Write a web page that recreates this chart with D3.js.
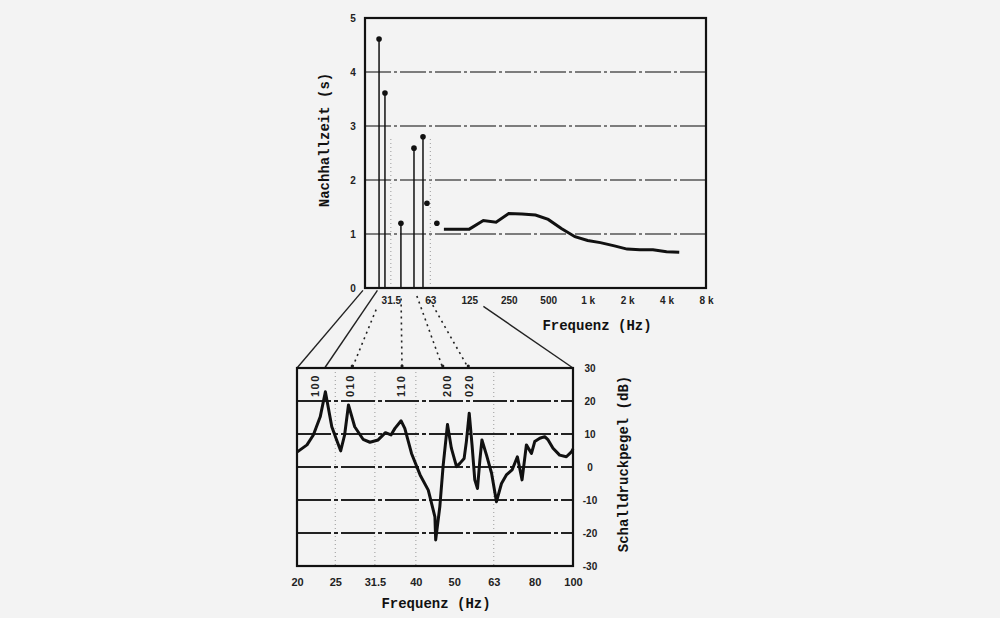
<!DOCTYPE html>
<html>
<head>
<meta charset="utf-8">
<script src="https://cdn.jsdelivr.net/npm/d3@7"></script>
<style>
  body { margin: 0; background: #f3f3f3; }
  svg { display: block; }
  .tick-label { font-family: "Liberation Sans", sans-serif; font-weight: bold; fill: #222; }
  .title { font-family: "Liberation Mono", monospace; font-weight: bold; fill: #111; font-size: 14px; }
</style>
</head>
<body>
<svg id="chart" width="1000" height="618"></svg>
<script>
// Nachhallzeit (top): third-octave curve
const rtFreq = [80, 100, 125, 160, 200, 250, 315, 400, 500, 630, 800, 1000, 1250, 1600, 2000, 2500, 3150, 4000, 5000];
const rtValue = [1.09, 1.09, 1.09, 1.25, 1.22, 1.38, 1.37, 1.35, 1.27, 1.10, 0.95, 0.88, 0.84, 0.78, 0.72, 0.71, 0.71, 0.67, 0.66];

// modal decay times (stems) and loose points
const stemFreq = [25.6, 28.4, 37.6, 47.3, 55.4];
const stemValue = [4.61, 3.61, 1.2, 2.59, 2.8];
const dotFreq = [59.4, 70.7];
const dotValue = [1.57, 1.2];

const topTickFreq = [31.5, 63, 125, 250, 500, 1000, 2000, 4000, 8000];
const topTickText = ["31.5", "63", "125", "250", "500", "1 k", "2 k", "4 k", "8 k"];
const topYTicks = [0, 1, 2, 3, 4, 5];
const topVGrid = [31.5, 63];

// Schalldruckpegel (bottom)
const splFreq = [20.0, 21.2, 22.0, 22.9, 23.6, 24.5, 25.2, 25.8, 26.4, 27.0, 28.0, 29.4, 30.6, 32.1, 33.5, 34.6, 35.4, 36.7, 37.5, 39.0,
  41.0, 43.0, 44.7, 44.9, 46.0, 46.9, 48.1, 49.2, 50.7, 51.7, 53.0, 53.7, 54.6, 55.5, 56.4, 57.3, 58.1, 58.8, 60.4, 62.2,
  64.0, 65.9, 67.8, 70.1, 72.3, 74.3, 76.2, 78.5, 80.0, 82.4, 84.8, 86.5, 89.0, 92.5, 96.2, 99.1, 100];
const splValue = [4.5, 6.7, 9.7, 15.2, 22.8, 12.2, 8.2, 4.9, 9.7, 18.8, 12.2, 8.4, 7.5, 8.2, 10.4, 9.7, 11.7, 14.0, 11.7, 4.1,
  -2.4, -7.0, -15.1, -22.1, -12, 0.4, 12.9, 5.7, 0.1, 1.1, 2.6, 7.7, 16.3, 6.7, -3.9, -6.5, 2.1, 8.2, 3.6, -1.9,
  -10.5, -5, -2.4, -0.9, 3.1, -3.9, 6.7, 4.1, 7.7, 8.7, 9.2, 8.2, 5.7, 3.6, 3.1, 4.6, 5.5];

const botTickFreq = [20, 25, 31.5, 40, 50, 63, 80, 100];
const botTickText = ["20", "25", "31.5", "40", "50", "63", "80", "100"];
const botYTicks = [30, 20, 10, 0, -10, -20, -30];
const botHGrid = [20, 10, 0, -10, -20];
const botVGrid = [25, 31.5, 40, 63];

// room modes
const modeName = ["100", "010", "110", "200", "020"];
const modeFreq = [23.5, 27.6, 36.9, 46.8, 54.3];
const modeLabelFreq = [22.2, 27.2, 36.6, 47.9, 54.6];

const svg = d3.select("#chart");

const topBox = { x: 365, y: 18, w: 341, h: 270 };
const botBox = { x: 297, y: 368, w: 276, h: 198 };

const xTop = d3.scaleLog().domain([20, 8000]).range([topBox.x, topBox.x + topBox.w]);
const yTop = d3.scaleLinear().domain([0, 5]).range([topBox.y + topBox.h, topBox.y]);
const xBot = d3.scaleLog().domain([20, 100]).range([botBox.x, botBox.x + botBox.w]);
const yBot = d3.scaleLinear().domain([-30, 30]).range([botBox.y + botBox.h, botBox.y]);

const plain = d => String(d);

// ---- top chart ----
const gTop = svg.append("g");

gTop.append("g")
  .selectAll("line")
  .data([1, 2, 3, 4])
  .join("line")
  .attr("x1", topBox.x).attr("x2", topBox.x + topBox.w)
  .attr("y1", d => yTop(d)).attr("y2", d => yTop(d))
  .attr("stroke", "#555")
  .attr("stroke-width", 1.6)
  .attr("stroke-dasharray", "26 3 3 3");

gTop.append("g")
  .selectAll("line")
  .data(topVGrid)
  .join("line")
  .attr("x1", d => xTop(d)).attr("x2", d => xTop(d))
  .attr("y1", yTop(0)).attr("y2", yTop(2.8))
  .attr("stroke", "#999")
  .attr("stroke-width", 1)
  .attr("stroke-dasharray", "1 3");

gTop.append("rect")
  .attr("x", topBox.x).attr("y", topBox.y)
  .attr("width", topBox.w).attr("height", topBox.h)
  .attr("fill", "none")
  .attr("stroke", "#111")
  .attr("stroke-width", 2.2);

const stems = stemFreq.map((f, i) => ({ f, v: stemValue[i] }));
gTop.append("g")
  .selectAll("line")
  .data(stems)
  .join("line")
  .attr("x1", d => xTop(d.f)).attr("x2", d => xTop(d.f))
  .attr("y1", yTop(0)).attr("y2", d => yTop(d.v))
  .attr("stroke", "#111")
  .attr("stroke-width", 1.5);

const dots = stems.concat(dotFreq.map((f, i) => ({ f, v: dotValue[i] })));
gTop.append("g")
  .selectAll("circle")
  .data(dots)
  .join("circle")
  .attr("cx", d => xTop(d.f))
  .attr("cy", d => yTop(d.v))
  .attr("r", 2.8)
  .attr("fill", "#111");

gTop.append("path")
  .datum(rtFreq.map((f, i) => [f, rtValue[i]]))
  .attr("fill", "none")
  .attr("stroke", "#111")
  .attr("stroke-width", 3)
  .attr("d", d3.line().x(d => xTop(d[0])).y(d => yTop(d[1])));

gTop.append("g")
  .attr("transform", `translate(0,${topBox.y + topBox.h})`)
  .call(d3.axisBottom(xTop).tickValues(topTickFreq).tickFormat((d, i) => topTickText[i]).tickSize(0).tickPadding(9))
  .call(g => g.select(".domain").remove())
  .call(g => g.selectAll("text").attr("class", "tick-label").attr("font-size", 10));

gTop.append("g")
  .attr("transform", `translate(${topBox.x - 12},0)`)
  .call(d3.axisLeft(yTop).tickValues(topYTicks).tickFormat(plain).tickSize(0).tickPadding(0))
  .call(g => g.select(".domain").remove())
  .call(g => g.selectAll("text").attr("class", "tick-label").attr("font-size", 10).attr("text-anchor", "middle"));

svg.append("text")
  .attr("class", "title")
  .attr("transform", "translate(329,140) rotate(-90)")
  .attr("text-anchor", "middle")
  .text("Nachhallzeit (s)");

svg.append("text")
  .attr("class", "title")
  .attr("x", 597).attr("y", 330)
  .attr("text-anchor", "middle")
  .text("Frequenz (Hz)");

// ---- connectors between the charts ----
// t0: where along the line the visible part starts (the scan leaves a gap under the labels)
const y0 = yTop(0), y1 = yBot(30);
const modeStart = [0.03, 0.27, 0.13, 0.1, 0.15];
const connectors = [
  { a: xTop(20), b: xBot(20), t0: 0.03, dash: null },
  { a: xTop(100), b: xBot(100), t0: 0.23, dash: null }
].concat(modeFreq.map((f, i) => ({
  a: xTop(stemFreq[i]), b: xBot(f), t0: modeStart[i], dash: i === 0 ? null : "2 4"
})));

svg.append("g")
  .selectAll("line")
  .data(connectors)
  .join("line")
  .attr("x1", d => d.a + (d.b - d.a) * d.t0)
  .attr("y1", d => y0 + (y1 - y0) * d.t0)
  .attr("x2", d => d.b)
  .attr("y2", y1)
  .attr("stroke", "#222")
  .attr("stroke-width", d => d.dash ? 1.6 : 1.4)
  .attr("stroke-dasharray", d => d.dash);

svg.append("g")
  .selectAll("circle")
  .data(modeFreq.slice(1))
  .join("circle")
  .attr("cx", d => xBot(d))
  .attr("cy", y1 - 2)
  .attr("r", 1.6)
  .attr("fill", "#222");

// ---- bottom chart ----
const gBot = svg.append("g");

gBot.append("g")
  .selectAll("line")
  .data(botVGrid)
  .join("line")
  .attr("x1", d => xBot(d)).attr("x2", d => xBot(d))
  .attr("y1", botBox.y).attr("y2", botBox.y + botBox.h)
  .attr("stroke", "#999")
  .attr("stroke-width", 1)
  .attr("stroke-dasharray", "1 3");

gBot.append("g")
  .selectAll("line")
  .data(botHGrid)
  .join("line")
  .attr("x1", botBox.x).attr("x2", botBox.x + botBox.w)
  .attr("y1", d => yBot(d)).attr("y2", d => yBot(d))
  .attr("stroke", "#222")
  .attr("stroke-width", 2)
  .attr("stroke-dasharray", "34 3 4 3");

gBot.append("rect")
  .attr("x", botBox.x).attr("y", botBox.y)
  .attr("width", botBox.w).attr("height", botBox.h)
  .attr("fill", "none")
  .attr("stroke", "#111")
  .attr("stroke-width", 2.2);

gBot.append("path")
  .datum(splFreq.map((f, i) => [f, splValue[i]]))
  .attr("fill", "none")
  .attr("stroke", "#111")
  .attr("stroke-width", 3)
  .attr("stroke-linejoin", "round")
  .attr("d", d3.line().x(d => xBot(d[0])).y(d => yBot(d[1])));

gBot.append("g")
  .selectAll("text")
  .data(modeName)
  .join("text")
  .attr("class", "tick-label")
  .attr("font-family", "Liberation Mono, monospace")
  .attr("font-size", 11)
  .attr("letter-spacing", 1.5)
  .attr("transform", (d, i) => `translate(${xBot(modeLabelFreq[i]) + 4},${botBox.y + 29}) rotate(-90)`)
  .text(d => d);

gBot.append("g")
  .attr("transform", `translate(0,${botBox.y + botBox.h})`)
  .call(d3.axisBottom(xBot).tickValues(botTickFreq).tickFormat((d, i) => botTickText[i]).tickSize(0).tickPadding(12))
  .call(g => g.select(".domain").remove())
  .call(g => g.selectAll("text").attr("class", "tick-label").attr("font-size", 11));

gBot.append("g")
  .attr("transform", `translate(${botBox.x + botBox.w + 17},0)`)
  .call(d3.axisRight(yBot).tickValues(botYTicks).tickFormat(plain).tickSize(0).tickPadding(0))
  .call(g => g.select(".domain").remove())
  .call(g => g.selectAll("text").attr("class", "tick-label").attr("font-size", 10).attr("text-anchor", "middle"));

svg.append("text")
  .attr("class", "title")
  .attr("transform", "translate(628,464) rotate(-90)")
  .attr("text-anchor", "middle")
  .text("Schalldruckpegel (dB)");

svg.append("text")
  .attr("class", "title")
  .attr("x", 436).attr("y", 608)
  .attr("text-anchor", "middle")
  .text("Frequenz (Hz)");
</script>
</body>
</html>
